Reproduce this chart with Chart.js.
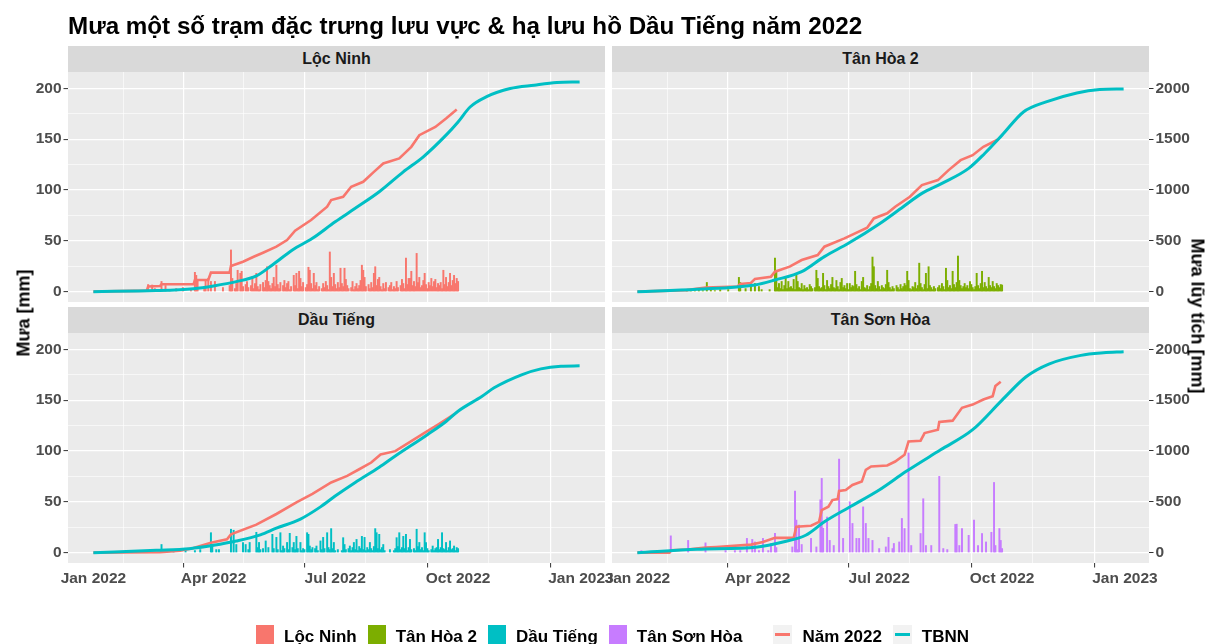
<!DOCTYPE html>
<html>
<head>
<meta charset="utf-8">
<script src="https://cdn.jsdelivr.net/npm/chart.js@4.4.1/dist/chart.umd.min.js"></script>
<style>
body { margin: 0; background: #fff; font-family: "Liberation Sans", Arial, sans-serif; }
#wrap { position: relative; width: 1209px; height: 644px; overflow: hidden; background: #fff; }
#wrap canvas { position: absolute; left: 0; top: 0; }
#title { position: absolute; left: 68px; top: 14px; font-size: 24.2px; line-height: 24px; font-weight: bold; color: #000; white-space: nowrap; }
.strip { position: absolute; background: #D9D9D9; color: #1A1A1A; font-size: 16px; font-weight: bold; display: flex; align-items: center; justify-content: center; }
.axtitle { position: absolute; font-size: 18px; font-weight: bold; color: #000; white-space: nowrap; }
#legend { position: absolute; left: 256px; top: 625px; display: flex; align-items: flex-start; }
.lkey { width: 19px; height: 19px; margin-right: 10px; position: relative; background: #F2F2F2; }
.lkey span { position: absolute; left: 2px; right: 2px; top: 8px; height: 3px; }
.ltext { font-size: 17px; line-height: 17px; font-weight: bold; color: #000; margin-right: 11px; margin-top: 3px; white-space: nowrap; }
</style>
</head>
<body>
<div id="wrap">
  <canvas id="c0" width="1209" height="644"></canvas>
  <canvas id="c1" width="1209" height="644"></canvas>
  <canvas id="c2" width="1209" height="644"></canvas>
  <canvas id="c3" width="1209" height="644"></canvas>
  <div id="title">Mưa một số trạm đặc trưng lưu vực &amp; hạ lưu hồ Dầu Tiếng năm 2022</div>
  <div class="axtitle" style="left:24px;top:313px;transform:translate(-50%,-50%) rotate(-90deg);">Mưa [mm]</div>
  <div class="axtitle" style="left:1197px;top:316px;transform:translate(-50%,-50%) rotate(90deg);">Mưa lũy tích [mm]</div>
  <div id="legend"></div>
</div>
<script>
// tram & mau
const stations = ["Lộc Ninh", "Tân Hòa 2", "Dầu Tiếng", "Tân Sơn Hòa"];
const barColors = ["#F8766D", "#7CAE00", "#00BFC4", "#C77CFF"];
const color2022 = "#F8766D";
const colorTBNN = "#00BFC4";

// truc x: so ngay tinh tu 01/01/2022
const xTickDays = [0, 45, 90, 135.5, 181, 227, 273, 319, 365];
const xTickLabels = ["Jan 2022", "", "Apr 2022", "", "Jul 2022", "", "Oct 2022", "", "Jan 2023"];
const yTicks = [0, 25, 50, 75, 100, 125, 150, 175, 200];
const y2Ticks = [0, 500, 1000, 1500, 2000];

// mua ngay [mm], bat dau tu ngay rainStart
const rainStart = [35, 35, 35, 0];
const rainLocNinh = [
  0,0,0,0,0,0,7,0,0,6.5,
  0,3,0,0,2,0,10,0,0,6,
  0,0,2,0,0,0,0,3,0,0,
  0,0,4,0,0,0,0,0,2,0,
  0,19,16,11,0,0,0,0,3,11,
  0,13,0,10,0,0,10,0,0,0,
  0,0,4,0,0,0,0,6,41,13,
  0,3,8,21,0,18,20,5,0,7,
  10,4,0,6,15,3,8,18,5,2,
  7,0,9,4,11,24.5,10,6,3,8,
  14,5,26,7,3,9,0,6,11,4,
  8,10,2,5,0,16,6,18,3,20,
  13,5,9,0,4,7,24,21,8,3,
  18,6,9,2,5,0,3,8,4,10,
  6,2,39,14,5,18,7,3,9,4,
  23,8,5,23,12,6,3,0,4,10,
  2,5,8,3,6,11,26,21,14,5,
  0,7,3,9,4,18,24.5,6,12,14,
  5,2,8,3,9,0,4,6,9,2,
  5,3,10,4,0,6,12,8,3,33,
  7,13,13,20,6,10,5,37.6,9,14,
  4,6,11,18,7,3,9,6,13,5,
  10,12,4,8,6,9,3,21,7,14,
  5,9,18,6,11,16,8,13,10
];
const rainTanHoa2 = [
  0,0,2,0,0,2,0,0,1,0,
  0,2,0,0,1,0,0,9,0,0,
  3,0,0,1,0,0,0,2,0,0,
  0,0,0,2,0,0,0,0,0,0,
  0,14,9,0,0,0,3,0,0,0,
  6.5,0,0,8,0,0,5,0,2,0,
  0,0,0,0,2,0,0,0,33,21,
  4,8,3,10,2,6,15,3,10,4,
  5,3,12,2,16,10,4,3,8,2,
  6,3,4,2,7,5,3,0,4,21,
  13,5,3,4,18,6,2,11,5,3,
  7,14,4,3,11,5,2,9,13,4,
  6,3,8,2,8,4,6,5,20,7,
  3,5,2,10,14,4,3,6,2,5,
  8,34,24.5,6,3,10,5,2,6,4,
  3,7,21,9,4,2,5,3,0,6,
  4,2,7,3,5,8,6,20,11,3,
  2,5,4,9,3,6,28,8,4,2,
  7,18,3,24.5,6,4,2,5,3,0,
  4,6,3,8,5,2,23,11,4,6,
  3,20,7,4,9,35,11,6,3,5,
  8,4,6,3,10,7,4,2,5,18,
  6,3,8,20,4,9,5,3,14,6,
  4,10,5,3,8,6,4,7,6.5
];
const rainDauTieng = [
  0,0,0,0,0,0,0,0,0,0,
  0,0,0,0,0,0,8,0,0,0,
  0,0,0,0,0,2,0,0,0,0,
  0,0,0,0,2,0,0,0,0,0,
  0,2,0,0,0,3,0,0,0,0,
  0,0,0,19.6,6.5,0,0,3,0,3,
  0,0,0,0,0,0,0,0,23,0,
  22,0,8,0,0,0,0,10,0,8,
  0,3,10,0,0,0,0,20,5,10,
  3,0,4,0,11.5,0,5,0,0,18,
  4,0,15,3,0,19.6,2,6.5,4,0,
  10,3,19,0,5,10,3,16,4,0,
  10,2,4,3,0,19.6,18,6.5,3,5,
  0,4,6.5,2,0,11.5,3,15,4,0,
  19.6,5,3,23.6,4,10,2,0,3,0,
  0,2,14.7,8,3,0,4,6.5,2,5,
  10,3,13,2,6,4,16,3,15,2,
  5,3,10,4,2,6,23.6,19.6,4,18,
  3,5,8,2,0,0,0,3,0,0,
  2,4,14.7,6,19.6,3,5,16,4,18,
  2,5,13,3,0,4,2,23,6,10,
  3,5,2,19.6,10,4,2,0,3,6.5,
  2,4,5,13,3,5,19.6,4,3,10,
  2,5,11.5,3,4,6.5,2,5,4
];
const rainTanSonHoa = [
  0,0,0,2,0,0,0,0,0,0,
  0,0,0,0,0,0,0,0,0,0,
  0,0,0,0,0,16.5,0,0,0,0,
  0,0,0,0,0,0,0,0,12,0,
  0,0,0,0,0,0,0,0,0,0,
  0,9.6,0,0,0,0,0,0,0,0,
  0,0,0,0,0,0,2,0,0,0,
  0,0,0,2,0,0,0,2,0,0,
  0,0,14,0,0,0,13,0,10.5,0,
  0,2,0,0,14,0,0,0,2,0,
  9,0,0,19,5,0,0,0,0,0,
  0,0,0,0,0,0,5.6,0,60.6,32,
  3,27,0,8,0,0,0,0,0,0,
  14,0,0,0,5.6,0,0,52,73,24,
  0,0,35,0,12,0,0,7,0,0,
  0,92,0,0,14,0,0,0,0,50,
  0,28.7,0,0,14,0,14,0,0,45,
  0,28.7,0,14,0,0,12,0,0,0,
  0,4,0,0,0,0,5.6,0,15,0,
  0,4,9,0,0,0,10.5,0,33.6,0,
  23.7,0,0,98,0,7,0,0,0,0,
  0,0,18.8,0,53,0,7,0,0,0,
  7,0,0,0,0,0,75,0,0,4,
  0,0,3,0,0,0,0,0,27.7,28,
  0,7,0,23.7,0,0,0,0,17,0,
  0,0,32,0,0,7,0,0,18.8,0,
  0,10.5,0,0,0,20,0,69,7,0,
  0,23.7,12,4
];

// mua luy tich nam 2022 [mm]
const cumDaysLocNinh = [0,40,41,50,51,75,76,86,88,102,103,112,120,127,137,145,151,163,175,178,187,193,202,210,217,229,238,244,256,264,272];
const cumLocNinh = [0,10,50,56,72,72,114,114,187,187,252,294,343,383,442,507,600,704,835,900,933,1031,1080,1178,1261,1310,1424,1539,1620,1702,1791];
const cumDaysTanHoa2 = [0,37,51,75,77,85,88,100,103,114,123,135,140,155,172,177,187,193,204,213,225,233,242,251,259,270];
const cumTanHoa2 = [0,15,40,50,75,85,125,147,196,246,311,360,442,524,628,720,770,835,933,1048,1097,1195,1293,1342,1424,1496];
const cumDaysDauTieng = [0,50,65,75,88,100,103,122,137,152,164,178,190,199,208,215,226,238,250,258,270];
const cumDauTieng = [0,3,20,45,98,131,180,275,380,495,578,690,755,820,886,966,998,1096,1195,1260,1359];
const cumDaysTanSonHoa = [0,24,25,38,44,51,59,85,94,103,117,119,130,136,138,143,146,150,151,156,161,168,171,175,187,193,200,203,212,215,225,226,236,243,251,259,266,268,272];
const cumTanSonHoa = [0,0,23,30,40,50,56,79,105,145,145,254,264,303,418,452,517,527,606,616,665,699,814,847,857,896,962,1094,1101,1176,1209,1285,1298,1424,1456,1506,1539,1638,1681];

// mua luy tich trung binh nhieu nam (TBNN) [mm]
const tbnnDaysLocNinh = [0,47,75,90,107,122,134,149,164,181,196,214,232,247,264,273,282,294,312,330,347,364];
const tbnnLocNinh = [0,10,29,56,98,154,262,410,524,687,819,982,1178,1326,1539,1669,1816,1915,1997,2030,2056,2062];
const tbnnDaysTanHoa2 = [0,45,88,103,123,140,158,181,199,213,228,248,260,273,289,306,329,346,364];
const tbnnTanHoa2 = [0,23,66,115,196,344,475,665,835,966,1064,1212,1359,1539,1767,1866,1954,1987,1993];
const tbnnDaysDauTieng = [0,47,72,90,107,125,137,155,170,181,196,214,226,250,264,273,291,300,321,335,350,364];
const tbnnDauTieng = [0,23,39,72,114,175,240,330,450,556,690,840,950,1160,1290,1391,1538,1621,1751,1807,1833,1837];
const tbnnDaysTanSonHoa = [0,45,90,109,126,140,158,181,201,227,251,273,291,308,332,349,364];
const tbnnTanSonHoa = [0,33,56,105,171,303,442,616,797,1011,1209,1500,1730,1855,1940,1965,1975];

const rainAll = [rainLocNinh, rainTanHoa2, rainDauTieng, rainTanSonHoa];
const cumDaysAll = [cumDaysLocNinh, cumDaysTanHoa2, cumDaysDauTieng, cumDaysTanSonHoa];
const cumAll = [cumLocNinh, cumTanHoa2, cumDauTieng, cumTanSonHoa];
const tbnnDaysAll = [tbnnDaysLocNinh, tbnnDaysTanHoa2, tbnnDaysDauTieng, tbnnDaysTanSonHoa];
const tbnnAll = [tbnnLocNinh, tbnnTanHoa2, tbnnDauTieng, tbnnTanSonHoa];

// vi tri cac o (facet)
const panels = [
  { left: true,  right: false, bottom: false, pad: { left: 0,   top: 72,  right: 604, bottom: 342 }, strip: [68, 46, 537, 26] },
  { left: false, right: true,  bottom: false, pad: { left: 612, top: 72,  right: 0,   bottom: 342 }, strip: [612, 46, 537, 26] },
  { left: true,  right: false, bottom: true,  pad: { left: 0,   top: 333, right: 604, bottom: 51 },  strip: [68, 307, 537, 26] },
  { left: false, right: true,  bottom: true,  pad: { left: 612, top: 333, right: 0,   bottom: 51 },  strip: [612, 307, 537, 26] }
];

Chart.defaults.font.family = "'Liberation Sans', Arial, sans-serif";
const tickFont = { size: 15.5, weight: "bold" };
const tickColor = "#4D4D4D";

const panelBg = {
  id: "panelBg",
  beforeDraw(chart) {
    const a = chart.chartArea, ctx = chart.ctx;
    ctx.save();
    ctx.fillStyle = "#EBEBEB";
    ctx.fillRect(a.left, a.top, a.right - a.left, a.bottom - a.top);
    ctx.restore();
  }
};

function pts(days, vals) {
  return days.map((d, k) => ({ x: d, y: vals[k] }));
}

panels.forEach((p, i) => {
  const bars = rainAll[i].map((v, k) => ({ x: rainStart[i] + k, y: v })).filter(d => d.y > 0);

  new Chart(document.getElementById("c" + i), {
    type: "bar",
    data: {
      datasets: [
        {
          type: "line",
          data: pts(tbnnDaysAll[i], tbnnAll[i]),
          borderColor: colorTBNN,
          borderWidth: 3,
          pointRadius: 0,
          cubicInterpolationMode: "monotone",
          yAxisID: "y2",
          order: 0
        },
        {
          type: "line",
          data: pts(cumDaysAll[i], cumAll[i]),
          borderColor: color2022,
          borderWidth: 2.6,
          pointRadius: 0,
          tension: 0,
          yAxisID: "y2",
          order: 1
        },
        {
          type: "bar",
          data: bars,
          backgroundColor: barColors[i],
          barThickness: 1.3,
          yAxisID: "y",
          order: 2
        }
      ]
    },
    options: {
      responsive: false,
      animation: false,
      events: [],
      layout: { padding: p.pad },
      plugins: { legend: { display: false }, tooltip: { enabled: false } },
      scales: {
        x: {
          type: "linear",
          min: -19,
          max: 383,
          offset: false,
          afterBuildTicks: s => { s.ticks = xTickDays.map(v => ({ value: v })); },
          afterFit: s => { s.height = p.bottom ? 30 : 0; },
          ticks: {
            display: p.bottom,
            autoSkip: false,
            maxRotation: 0,
            minRotation: 0,
            padding: 2,
            color: tickColor,
            font: tickFont,
            callback: (v, k) => xTickLabels[k]
          },
          grid: {
            color: "#FFFFFF",
            lineWidth: c => xTickLabels[c.index] ? 1.2 : 0.6,
            drawTicks: p.bottom,
            tickLength: 4.5,
            tickWidth: 1,
            tickColor: c => xTickLabels[c.index] ? "#333333" : "rgba(0,0,0,0)"
          },
          border: { display: false }
        },
        y: {
          type: "linear",
          position: "left",
          min: -10.2,
          max: 216,
          afterBuildTicks: s => { s.ticks = yTicks.map(v => ({ value: v })); },
          afterFit: s => { s.width = p.left ? 68 : 0; },
          ticks: {
            display: p.left,
            padding: 2,
            color: tickColor,
            font: tickFont,
            callback: v => (v % 50 === 0 ? String(v) : "")
          },
          grid: {
            color: "#FFFFFF",
            lineWidth: c => (c.tick && c.tick.value % 50 === 0 ? 1.2 : 0.6),
            drawTicks: p.left,
            tickLength: 4.5,
            tickWidth: 1,
            tickColor: c => (c.tick && c.tick.value % 50 === 0 ? "#333333" : "rgba(0,0,0,0)")
          },
          border: { display: false }
        },
        y2: {
          type: "linear",
          position: "right",
          display: p.right,
          min: -102,
          max: 2160,
          afterBuildTicks: s => { s.ticks = y2Ticks.map(v => ({ value: v })); },
          afterFit: s => { s.width = p.right ? 60 : 0; },
          ticks: {
            padding: 2,
            color: tickColor,
            font: tickFont,
            callback: v => String(v)
          },
          grid: {
            drawOnChartArea: false,
            drawTicks: true,
            tickLength: 4.5,
            tickWidth: 1,
            tickColor: "#333333"
          },
          border: { display: false }
        }
      }
    },
    plugins: [panelBg]
  });

  const st = document.createElement("div");
  st.className = "strip";
  st.style.left = p.strip[0] + "px";
  st.style.top = p.strip[1] + "px";
  st.style.width = p.strip[2] + "px";
  st.style.height = p.strip[3] + "px";
  st.textContent = stations[i];
  document.getElementById("wrap").appendChild(st);
});

// chu giai
const legend = document.getElementById("legend");
stations.forEach((s, i) => {
  const k = document.createElement("div");
  k.className = "lkey";
  k.style.background = barColors[i];
  k.style.width = "18px";
  legend.appendChild(k);
  const t = document.createElement("div");
  t.className = "ltext";
  t.textContent = s;
  legend.appendChild(t);
});
const gap = document.createElement("div");
gap.style.width = "20px";
legend.appendChild(gap);
[["Năm 2022", color2022], ["TBNN", colorTBNN]].forEach(([s, c]) => {
  const k = document.createElement("div");
  k.className = "lkey";
  const ln = document.createElement("span");
  ln.style.background = c;
  k.appendChild(ln);
  legend.appendChild(k);
  const t = document.createElement("div");
  t.className = "ltext";
  t.textContent = s;
  legend.appendChild(t);
});
</script>
</body>
</html>
